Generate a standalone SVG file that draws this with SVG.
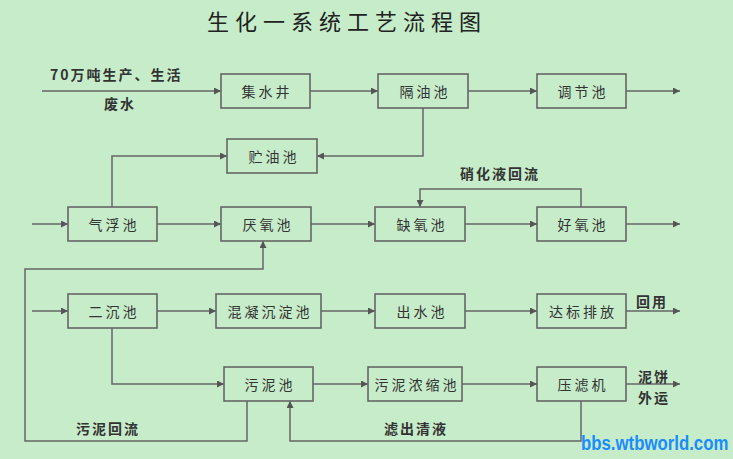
<svg xmlns="http://www.w3.org/2000/svg" width="733" height="459" viewBox="0 0 733 459">
<defs>
<marker id="arr" viewBox="0 0 10 10" refX="10" refY="5" markerWidth="7" markerHeight="7" markerUnits="userSpaceOnUse" orient="auto">
<path d="M0,0 L10,5 L0,10 z" fill="#555"/>
</marker>
<style>
.bx{fill:#c6ecca;stroke:#666;stroke-width:1.6}
.lb{font-family:"Noto Sans CJK SC","Noto Sans",sans-serif;font-size:14px;fill:#333;text-anchor:middle;dominant-baseline:central;letter-spacing:3px}
.cn line,.cn polyline{stroke:#666;stroke-width:1.5;fill:none}
.ar{marker-end:url(#arr)}
.t{font-family:"Noto Sans CJK SC","Noto Sans",sans-serif;font-size:14px;font-weight:bold;fill:#333;letter-spacing:2px}
</style>
</defs>
<rect width="733" height="459" fill="#c6ecca"/>
<text x="347" y="30" font-family="'Noto Sans CJK SC',sans-serif" font-size="22" fill="#222" text-anchor="middle" letter-spacing="6">生化一系统工艺流程图</text>

<g class="cn">
<line class="ar" x1="42" y1="91" x2="221" y2="91"/>
<line class="ar" x1="310" y1="91" x2="378" y2="91"/>
<line class="ar" x1="468" y1="91" x2="537" y2="91"/>
<line class="ar" x1="626" y1="91" x2="680" y2="91"/>
<polyline class="ar" points="423,108 423,156 317,156"/>
<polyline class="ar" points="112,207 112,156 227,156"/>
<line class="ar" x1="32" y1="224" x2="68" y2="224"/>
<line class="ar" x1="157" y1="224" x2="221" y2="224"/>
<line class="ar" x1="311" y1="224" x2="375" y2="224"/>
<line class="ar" x1="465" y1="224" x2="537" y2="224"/>
<line class="ar" x1="626" y1="224" x2="680" y2="224"/>
<polyline class="ar" points="581,207 581,189 420,189 420,207"/>
<line class="ar" x1="32" y1="311" x2="68" y2="311"/>
<line class="ar" x1="157" y1="311" x2="216" y2="311"/>
<line class="ar" x1="321" y1="311" x2="375" y2="311"/>
<line class="ar" x1="465" y1="311" x2="537" y2="311"/>
<line class="ar" x1="626" y1="311" x2="680" y2="311"/>
<polyline class="ar" points="112,328 112,384 224,384"/>
<line class="ar" x1="313" y1="384" x2="368" y2="384"/>
<line class="ar" x1="462" y1="384" x2="537" y2="384"/>
<line class="ar" x1="626" y1="384" x2="680" y2="384"/>
<polyline class="ar" points="247,401 247,441 25,441 25,269 263,269 263,241"/>
<polyline class="ar" points="581,401 581,441 290,441 290,401"/>
</g>

<g id="n-jishuijing"><rect class="bx" x="221" y="74" width="89" height="34"/><text class="lb" x="267" y="91">集水井</text></g>
<g id="n-geyouchi"><rect class="bx" x="378" y="74" width="90" height="34"/><text class="lb" x="425" y="91">隔油池</text></g>
<g id="n-tiaojiechi"><rect class="bx" x="537" y="74" width="89" height="34"/><text class="lb" x="583" y="91">调节池</text></g>
<g id="n-zhuyouchi"><rect class="bx" x="227" y="139" width="90" height="34"/><text class="lb" x="274" y="156">贮油池</text></g>
<g id="n-qifuchi"><rect class="bx" x="68" y="207" width="89" height="34"/><text class="lb" x="114" y="224">气浮池</text></g>
<g id="n-yanyangchi"><rect class="bx" x="221" y="207" width="90" height="34"/><text class="lb" x="268" y="224">厌氧池</text></g>
<g id="n-queyangchi"><rect class="bx" x="375" y="207" width="90" height="34"/><text class="lb" x="422" y="224">缺氧池</text></g>
<g id="n-haoyangchi"><rect class="bx" x="537" y="207" width="89" height="34"/><text class="lb" x="583" y="224">好氧池</text></g>
<g id="n-erchenchi"><rect class="bx" x="68" y="294" width="89" height="34"/><text class="lb" x="114" y="311">二沉池</text></g>
<g id="n-hunning"><rect class="bx" x="216" y="294" width="105" height="34"/><text class="lb" x="270" y="311">混凝沉淀池</text></g>
<g id="n-chushuichi"><rect class="bx" x="375" y="294" width="90" height="34"/><text class="lb" x="422" y="311">出水池</text></g>
<g id="n-dabiao"><rect class="bx" x="537" y="294" width="89" height="34"/><text class="lb" x="583" y="311">达标排放</text></g>
<g id="n-wunichi"><rect class="bx" x="224" y="367" width="89" height="34"/><text class="lb" x="270" y="384">污泥池</text></g>
<g id="n-nongsuo"><rect class="bx" x="368" y="367" width="94" height="34"/><text class="lb" x="417" y="384">污泥浓缩池</text></g>
<g id="n-yaluji"><rect class="bx" x="537" y="367" width="89" height="34"/><text class="lb" x="583" y="384">压滤机</text></g>

<g id="labels">
<text class="t" x="50" y="80">70万吨生产、生活</text>
<text class="t" x="104" y="109">废水</text>
<text class="t" x="460" y="179">硝化液回流</text>
<text class="t" x="636" y="307">回用</text>
<text class="t" x="638" y="382">泥饼</text>
<text class="t" x="638" y="403">外运</text>
<text class="t" x="76" y="434">污泥回流</text>
<text class="t" x="384" y="434">滤出清液</text>
</g>
<text transform="translate(581 450) scale(0.8 1)" x="0" y="0" font-family="'Liberation Sans',sans-serif" font-size="21" font-weight="bold" fill="#1a8cff">bbs.wtbworld.com</text>
</svg>
